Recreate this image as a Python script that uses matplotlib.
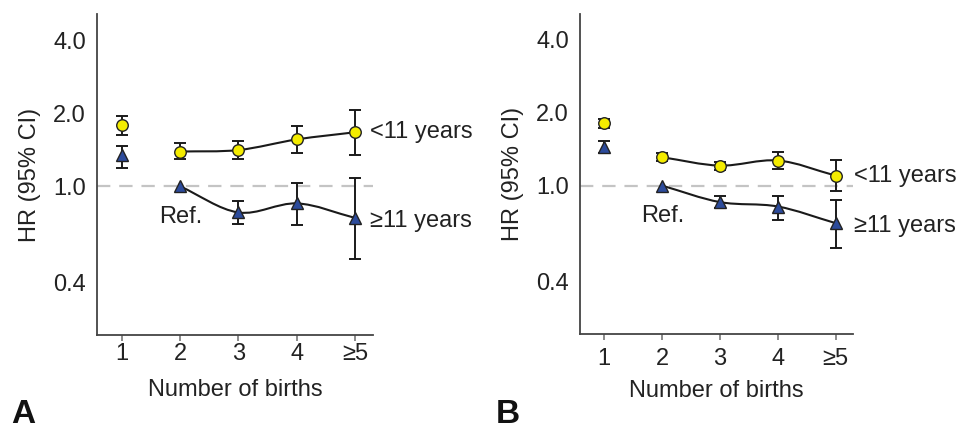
import numpy as np
import matplotlib
matplotlib.use("Agg")
import matplotlib.pyplot as plt
from matplotlib.path import Path
from matplotlib.patches import PathPatch
from matplotlib.ticker import NullFormatter, FixedLocator, FixedFormatter

plt.rcParams['font.family'] = ['Liberation Sans', 'DejaVu Sans']

categories = ['1', '2', '3', '4', '≥5']
ytick_vals = [0.4, 1.0, 2.0, 4.0]
ytick_labels = ['0.4', '1.0', '2.0', '4.0']

# Panel A
a_young_hr = [1.79, 1.39, 1.41, 1.56, 1.67]
a_young_lo = [1.62, 1.29, 1.29, 1.37, 1.35]
a_young_hi = [1.95, 1.51, 1.54, 1.77, 2.06]
a_old_hr = [1.34, 1.00, 0.78, 0.85, 0.74]
a_old_lo = [1.19, np.nan, 0.70, 0.69, 0.50]
a_old_hi = [1.47, np.nan, 0.87, 1.03, 1.08]

# Panel B
b_young_hr = [1.82, 1.31, 1.21, 1.27, 1.10]
b_young_lo = [1.73, 1.27, 1.16, 1.17, 0.95]
b_young_hi = [1.89, 1.36, 1.25, 1.38, 1.28]
b_old_hr = [1.45, 1.00, 0.855, 0.82, 0.70]
b_old_lo = [1.36, np.nan, 0.81, 0.72, 0.554]
b_old_hi = [1.53, np.nan, 0.91, 0.91, 0.874]

YELLOW = '#f4ec00'
BLUE = '#2c4b9b'
EDGE = '#222222'
SPINE = '#444444'
TXT = '#222222'
FS = 17

fig = plt.figure(figsize=(9.63, 4.32), dpi=100)


def smooth_curve(ax, xs, ys):
    xs = np.asarray(xs, float)
    ly = np.log10(np.asarray(ys, float))
    pts = np.column_stack([xs, ly])
    n = len(pts)
    tang = np.zeros_like(pts)
    for i in range(n):
        if i == 0:
            tang[i] = pts[1] - pts[0]
        elif i == n - 1:
            tang[i] = pts[-1] - pts[-2]
        else:
            tang[i] = (pts[i + 1] - pts[i - 1]) / 2
    verts = [pts[0]]
    codes = [Path.MOVETO]
    for i in range(n - 1):
        c1 = pts[i] + tang[i] / 3
        c2 = pts[i + 1] - tang[i + 1] / 3
        verts += [c1, c2, pts[i + 1]]
        codes += [Path.CURVE4] * 3
    verts = np.array(verts)
    verts[:, 1] = 10 ** verts[:, 1]
    patch = PathPatch(Path(verts, codes), fill=False, edgecolor='#1a1a1a',
                      lw=1.5, zorder=3)
    ax.add_patch(patch)


def panel(rect, young, ylo, yhi, old, olo, ohi, letter, letter_x,
          young_dx, ref_x, xpad, xlabpad):
    ax = fig.add_axes(rect)
    x = np.arange(1, len(categories) + 1)
    ax.set_yscale('log')
    ax.set_ylim(0.244, 5.1)
    ax.set_xlim(0.58, 5.3)
    ax.axhline(1.0, color='#c4c4c4', lw=1.6, ls=(0, (6, 4)), zorder=1)

    smooth_curve(ax, x[1:], young[1:])
    smooth_curve(ax, x[1:], old[1:])

    for hr, lo, hi, col, mk, ms in [(young, ylo, yhi, YELLOW, 'o', 8.3),
                                    (old, olo, ohi, BLUE, '^', 8.5)]:
        hr = np.asarray(hr, float)
        lo = np.asarray(lo, float)
        hi = np.asarray(hi, float)
        mask = ~np.isnan(lo)
        ax.errorbar(x[mask], hr[mask],
                    yerr=[hr[mask] - lo[mask], hi[mask] - hr[mask]],
                    fmt='none', ecolor='#1a1a1a', elinewidth=1.4,
                    capsize=4, capthick=1.4, zorder=4)
        ax.plot(x, hr, ls='none', marker=mk, ms=ms, mfc=col, mec=EDGE,
                mew=1.0, zorder=5)

    ax.text(5 + young_dx, young[-1], '<11 years', fontsize=FS,
            va='center', ha='left', color=TXT, clip_on=False)
    ax.text(5 + young_dx, old[-1] * 0.97, '≥11 years', fontsize=FS,
            va='center', ha='left', color=TXT, clip_on=False)
    ax.text(ref_x, 0.75, 'Ref.', fontsize=FS, va='center', ha='center',
            color=TXT)

    for s in ['top', 'right']:
        ax.spines[s].set_visible(False)
    for s in ['left', 'bottom']:
        ax.spines[s].set_color(SPINE)
        ax.spines[s].set_linewidth(1.3)

    ax.yaxis.set_major_locator(FixedLocator(ytick_vals))
    ax.yaxis.set_major_formatter(FixedFormatter(ytick_labels))
    ax.yaxis.set_minor_locator(FixedLocator([1.0]))
    ax.yaxis.set_minor_formatter(NullFormatter())
    ax.tick_params(axis='y', which='major', length=0, pad=8,
                   labelsize=FS, labelcolor=TXT)
    ax.tick_params(axis='y', which='minor', length=3, width=1.2,
                   color=SPINE)
    ax.set_xticks(x)
    ax.set_xticklabels(categories)
    ax.tick_params(axis='x', length=4, width=1.2, color='#777777', pad=xpad,
                   labelsize=FS, labelcolor=TXT)
    ax.set_ylabel('HR (95% CI)', fontsize=FS, color=TXT, labelpad=9)
    ax.set_xlabel('Number of births', fontsize=FS, color=TXT,
                  labelpad=xlabpad)
    fig.text(letter_x, 0.02, letter, fontsize=24, fontweight='bold',
             color='#111111', ha='left', va='baseline')
    return ax


panel([0.1007, 0.2245, 0.2866, 0.742], a_young_hr, a_young_lo, a_young_hi,
      a_old_hr, a_old_lo, a_old_hi, 'A', 0.012, 0.25, 2.02, 2, 10)
panel([0.6023, 0.2269, 0.2835, 0.740], b_young_hr, b_young_lo, b_young_hi,
      b_old_hr, b_old_lo, b_old_hi, 'B', 0.515, 0.32, 2.01, 6, 7)

fig.savefig('out.png', dpi=100)
